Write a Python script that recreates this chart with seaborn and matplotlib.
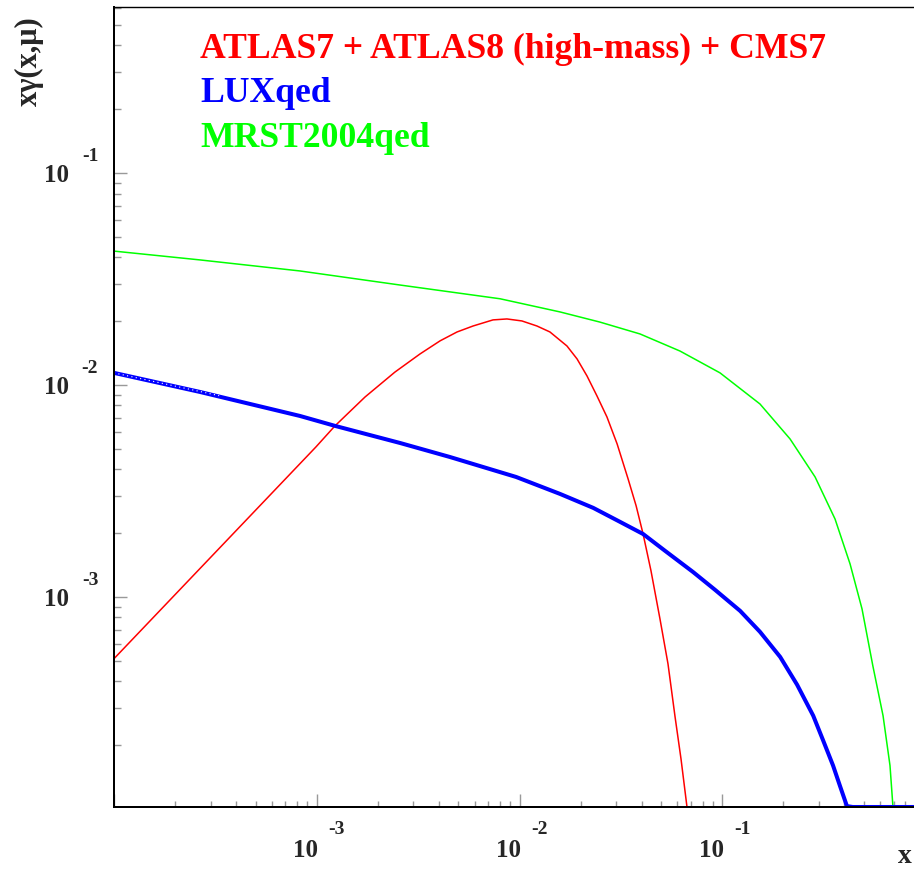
import numpy as np
import pandas as pd
import matplotlib
matplotlib.use("Agg")
import matplotlib.pyplot as plt
from matplotlib.ticker import LogLocator, NullFormatter
import seaborn as sns

# ---------------- data ----------------
atlas_x = [1.0e-4, 9.91e-4, 1.23e-3, 1.73e-3, 2.43e-3, 3.23e-3, 4.06e-3, 4.92e-3, 5.90e-3,
           7.40e-3, 8.67e-3, 1.028e-2, 1.219e-2, 1.413e-2, 1.714e-2, 1.922e-2, 2.153e-2,
           2.411e-2, 2.70e-2, 3.03e-2, 3.43e-2, 3.76e-2, 4.07e-2, 4.45e-2, 4.93e-2,
           5.40e-2, 5.85e-2, 6.26e-2, 6.70e-2]
atlas_y = [5.11e-4, 5.10e-3, 6.41e-3, 8.77e-3, 1.15e-2, 1.40e-2, 1.615e-2, 1.778e-2, 1.897e-2,
           2.027e-2, 2.048e-2, 2.004e-2, 1.897e-2, 1.778e-2, 1.527e-2, 1.327e-2, 1.102e-2,
           8.87e-3, 7.06e-3, 5.27e-3, 3.61e-3, 2.69e-3, 1.98e-3, 1.33e-3, 7.87e-4,
           4.83e-4, 2.72e-4, 1.72e-4, 1.02e-4]

lux_x = [1.0e-4, 2.65e-4, 8.26e-4, 1.23e-3, 2.58e-3, 4.54e-3, 9.62e-3, 1.585e-2, 2.31e-2,
         3.13e-2, 4.07e-2, 5.22e-2, 7.18e-2, 9.21e-2, 0.1225, 0.1535, 0.193, 0.234,
         0.281, 0.314, 0.352, 0.381, 0.412, 0.44, 1.0]
lux_y = [1.14e-2, 9.27e-3, 7.14e-3, 6.41e-3, 5.32e-3, 4.57e-3, 3.68e-3, 3.06e-3, 2.63e-3,
         2.26e-3, 1.98e-3, 1.65e-3, 1.31e-3, 1.08e-3, 8.59e-4, 6.84e-4, 5.21e-4, 3.85e-4,
         2.75e-4, 2.11e-4, 1.60e-4, 1.28e-4, 1.03e-4, 1.02e-4, 1.02e-4]

# white dotted overlay seen on the left part of the LUXqed band
lux_dots_x = [1.0e-4, 3.3e-4]
lux_dots_y = [1.14e-2, 8.9e-3]

mrst_x = [1.0e-4, 2.65e-4, 8.26e-4, 2.58e-3, 8.02e-3, 1.585e-2, 2.49e-2, 3.93e-2, 6.19e-2,
          9.75e-2, 0.1535, 0.216, 0.287, 0.360, 0.427, 0.489, 0.553, 0.621, 0.672, 0.695]
mrst_y = [4.28e-2, 3.89e-2, 3.45e-2, 2.96e-2, 2.55e-2, 2.21e-2, 1.98e-2, 1.74e-2, 1.445e-2,
          1.14e-2, 8.13e-3, 5.56e-3, 3.68e-3, 2.33e-3, 1.43e-3, 8.78e-4, 4.73e-4,
          2.75e-4, 1.60e-4, 1.02e-4]

series_names = ["ATLAS7 + ATLAS8 (high-mass) + CMS7", "LUXqed", "MRST2004qed"]
series_colors = ["#ff0000", "#0000ff", "#00ff00"]

tick_vals = [1e-3, 1e-2, 1e-1]
tick_exps = ["-3", "-2", "-1"]
x_title = "x"
y_title = "xγ(x,μ)"

# ---------------- figure ----------------
sns.set_style("white")
plt.rcParams["font.family"] = ["Liberation Serif", "DejaVu Serif"]
plt.rcParams["font.weight"] = "bold"

W, H = 914, 870
fig = plt.figure(figsize=(W / 100, H / 100), dpi=100)
fig.patch.set_facecolor("white")
ax = fig.add_axes([114 / W, 1 - 808 / H, 811 / W, 800 / H])
ax.set_facecolor("white")

df_atlas = pd.DataFrame({"x": atlas_x, "y": atlas_y})
df_lux = pd.DataFrame({"x": lux_x, "y": lux_y})
df_dots = pd.DataFrame({"x": lux_dots_x, "y": lux_dots_y})
df_mrst = pd.DataFrame({"x": mrst_x, "y": mrst_y})

sns.lineplot(data=df_mrst, x="x", y="y", ax=ax, color=series_colors[2], lw=1.1,
             estimator=None, sort=False)
sns.lineplot(data=df_atlas, x="x", y="y", ax=ax, color=series_colors[0], lw=1.1,
             estimator=None, sort=False)
sns.lineplot(data=df_lux, x="x", y="y", ax=ax, color=series_colors[1], lw=2.9,
             estimator=None, sort=False)
sns.lineplot(data=df_dots, x="x", y="y", ax=ax, color="white", lw=0.8,
             estimator=None, sort=False, linestyle=(0, (1, 3)))

ax.set_xscale("log")
ax.set_yscale("log")
ax.set_xlim(1e-4, 1.0)
ax.set_ylim(1.02e-4, 0.607)
ax.set_xlabel("")
ax.set_ylabel("")

for axis in (ax.xaxis, ax.yaxis):
    axis.set_major_locator(LogLocator(base=10, numticks=20))
    axis.set_minor_locator(LogLocator(base=10, subs=np.arange(2, 10), numticks=20))
    axis.set_major_formatter(NullFormatter())
    axis.set_minor_formatter(NullFormatter())

px = 0.72
ax.tick_params(which="major", direction="in", length=13 * px, width=1.4 * px,
               color="#999999", top=False, right=False, bottom=True, left=True)
ax.tick_params(which="minor", direction="in", length=6.5 * px, width=1.4 * px,
               color="#999999", top=False, right=False, bottom=True, left=True)

for s in ["left", "bottom"]:
    ax.spines[s].set_color("black")
    ax.spines[s].set_linewidth(2 * px)
ax.spines["top"].set_color("black")
ax.spines["top"].set_linewidth(1.4 * px)
ax.spines["right"].set_visible(False)

# tick labels in ROOT style: "10" with a detached superscript exponent
for v, e in zip(tick_vals, tick_exps):
    ax.annotate("10", xy=(v, 0), xycoords=("data", "axes fraction"),
                xytext=(-11 * px, -43 * px), textcoords="offset points",
                ha="center", va="center", fontsize=18, fontweight="bold")
    ax.annotate(e, xy=(v, 0), xycoords=("data", "axes fraction"),
                xytext=(20 * px, -22 * px), textcoords="offset points",
                ha="center", va="center", fontsize=14, fontweight="bold")
    ax.annotate("10", xy=(0, v), xycoords=("axes fraction", "data"),
                xytext=(-57 * px, -2 * px), textcoords="offset points",
                ha="center", va="center", fontsize=18, fontweight="bold")
    ax.annotate(e, xy=(0, v), xycoords=("axes fraction", "data"),
                xytext=(-24 * px, 17 * px), textcoords="offset points",
                ha="center", va="center", fontsize=14, fontweight="bold")

# legend-like labels
for i, (name, col) in enumerate(zip(series_names, series_colors)):
    fig.text(200 / W, 1 - (58 + 44.5 * i) / H, name, color=col, fontsize=25.7,
             fontweight="bold", ha="left", va="baseline")

fig.text(905 / W, 1 - 857 / H, x_title, fontsize=20, fontweight="bold",
         ha="center", va="center")
fig.text(29 / W, 1 - 16 / H, y_title, fontsize=22, fontweight="bold",
         rotation=90, ha="center", va="top")

fig.savefig("out.png", dpi=100)
